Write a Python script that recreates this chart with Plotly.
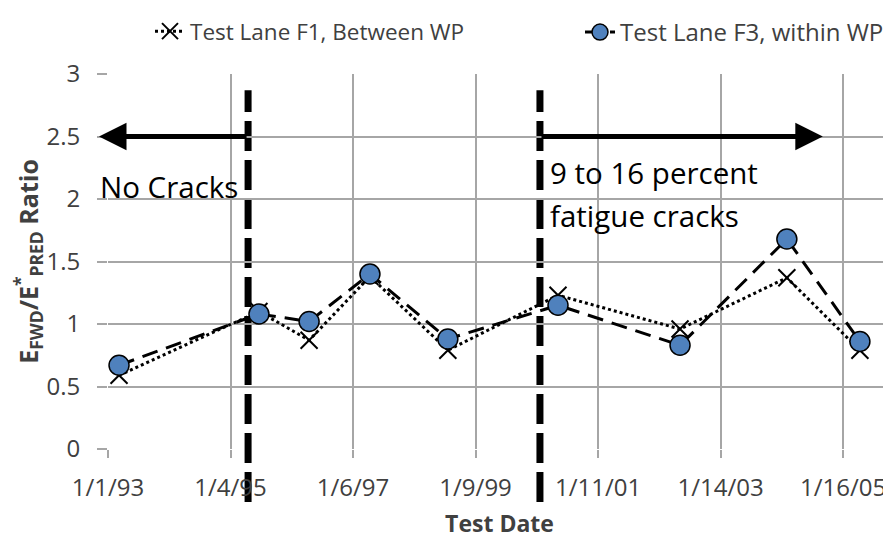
import plotly.graph_objects as go

# test dates and ratios
test_dates = ['1993-03-08', '1995-06-23', '1996-04-18', '1997-04-17', '1998-07-27',
              '2000-05-16', '2002-05-16', '2004-02-14', '2005-04-26']
f1_between_wp = [0.59, 1.10, 0.87, 1.38, 0.79, 1.23, 0.96, 1.37, 0.79]
f3_within_wp = [0.67, 1.08, 1.02, 1.40, 0.88, 1.15, 0.83, 1.68, 0.86]

tick_dates = ['1993-01-01', '1995-01-04', '1997-01-06', '1999-01-09',
              '2001-01-11', '2003-01-14', '2005-01-16']
tick_labels = ['1/1/93', '1/4/95', '1/6/97', '1/9/99', '1/11/01', '1/14/03', '1/16/05']

# crack condition markers
no_crack_end = '1995-04-19'
fatigue_start = '2000-01-29'
left_arrow_tip = '1992-11-08'
right_arrow_tip = '2004-09-16'
arrow_level = 2.5

font = 'Open Sans'
grid = '#a6a6a6'
txt = '#404040'

# page body has an 8px margin, so the figure is 8px smaller than the window
W, H = 883, 531

fig = go.Figure()

fig.add_trace(go.Scatter(
    x=test_dates, y=f1_between_wp, mode='lines+markers',
    name='Test Lane F1, Between WP', legend='legend', showlegend=True,
    line=dict(color='black', width=3, dash='dot'),
    marker=dict(symbol='x-thin', size=17, line=dict(color='black', width=2)),
))
fig.add_trace(go.Scatter(
    x=test_dates, y=f3_within_wp, mode='lines+markers',
    name='Test Lane F3, within WP', legend='legend2', showlegend=True,
    line=dict(color='black', width=3, dash='16px,9px'),
    marker=dict(symbol='circle', size=20, color='#4f81bd',
                line=dict(color='black', width=1.5)),
))

# vertical dashed separators
for d in [no_crack_end, fatigue_start]:
    fig.add_shape(type='line', xref='x', yref='paper', x0=d, x1=d,
                  y0=-0.141, y1=0.957, layer='between',
                  line=dict(color='black', width=7, dash='30px,9px'))

# arrows
for tip, tail in [(left_arrow_tip, no_crack_end), (right_arrow_tip, fatigue_start)]:
    fig.add_annotation(x=tip, y=arrow_level, ax=tail, ay=arrow_level,
                       axref='x', ayref='y', text='', showarrow=True,
                       arrowhead=2, arrowsize=1.1, arrowwidth=5, arrowcolor='black',
                       standoff=0)

fig.add_annotation(x=no_crack_end, y=2.1, text='No Cracks', showarrow=False,
                   xanchor='right', xshift=-8, font=dict(family=font, size=29.5, color='black'))
fig.add_annotation(x=fatigue_start, y=2.21, text='9 to 16 percent', showarrow=False,
                   xanchor='left', xshift=8, font=dict(family=font, size=29.5, color='black'))
fig.add_annotation(x=fatigue_start, y=1.87, text='fatigue cracks', showarrow=False,
                   xanchor='left', xshift=8, font=dict(family=font, size=29.5, color='black'))

fig.update_xaxes(
    type='date', range=['1993-01-01', '2005-10-29'],
    tickvals=tick_dates, ticktext=tick_labels,
    showgrid=True, gridcolor=grid, gridwidth=2,
    ticks='outside', ticklen=8, tickcolor=grid, tickwidth=2,
    ticklabelstandoff=9, showline=False, zeroline=False, automargin=False,
    tickfont=dict(family=font, size=24, color=txt),
    title=dict(text='<b>Test Date</b>', font=dict(family=font, size=23, color=txt),
               standoff=20),
)
fig.update_yaxes(
    range=[0, 3], dtick=0.5,
    showgrid=True, gridcolor=grid, gridwidth=2,
    ticks='outside', ticklen=10, tickcolor=grid, tickwidth=2,
    ticklabelstandoff=12, zeroline=False, automargin=False,
    tickfont=dict(family=font, size=24, color=txt),
    title=dict(text='<b>E<sub>FWD</sub>/E<sup>*</sup><sub>PRED</sub> Ratio</b>',
               font=dict(family=font, size=25, color=txt), standoff=6),
)

legend_style = dict(orientation='h', xref='container', yref='container', y=1 - 2 / H,
                    yanchor='top', xanchor='left', bgcolor='rgba(0,0,0,0)',
                    borderwidth=0, tracegroupgap=0)

fig.update_layout(
    width=W, height=H, showlegend=True,
    margin=dict(l=100, r=0, t=66, b=90, autoexpand=False),
    plot_bgcolor='white', paper_bgcolor='white',
    font=dict(family=font, color=txt),
    legend=dict(x=142 / W, font=dict(family=font, size=22.5, color=txt), **legend_style),
    legend2=dict(x=572 / W, font=dict(family=font, size=24, color=txt), **legend_style),
)

fig.write_html('out.html')
